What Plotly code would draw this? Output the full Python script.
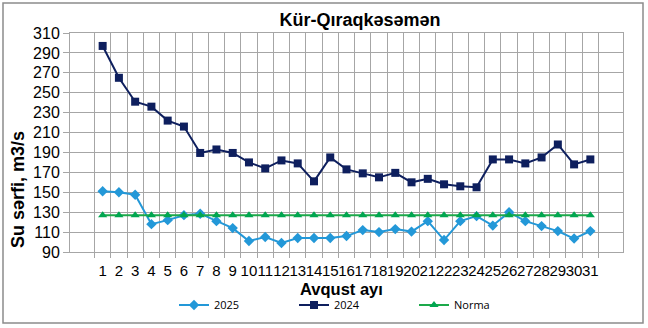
import plotly.graph_objects as go

days = [str(d) for d in range(1, 32)]
y2025 = [151, 150, 147.5, 118, 122, 127, 128.5, 121, 114, 101, 105, 99, 104, 104, 104, 106,
         112, 110, 113, 110.5, 121, 102, 121, 126, 116.5, 130, 121, 116, 111, 103.5, 111]
y2024 = [297, 265, 241, 236, 222, 216, 189.5, 193, 189.5, 180, 174, 182, 179, 161, 185, 173,
         169, 165, 169.5, 160, 163.5, 158, 156, 155, 183, 183, 179, 185, 198, 178, 183]
norma = [127] * 31
y_ticks = list(range(90, 311, 20))

W, H = 648, 328
L, R, T, B = 70, 25, 33, 76
pw, ph = W - L - R, H - T - B

def px_x(x):
    return (x - L) / pw

def px_y(y):
    return (H - B - y) / ph

fig = go.Figure()
fig.add_trace(go.Scatter(x=days, y=y2025, name="2025", mode="lines+markers",
                         line=dict(color="#2398D8", width=2),
                         marker=dict(symbol="diamond", size=8, color="#2398D8")))
fig.add_trace(go.Scatter(x=days, y=y2024, name="2024", mode="lines+markers",
                         line=dict(color="#0E1F5E", width=2),
                         marker=dict(symbol="square", size=8, color="#0E1F5E")))
fig.add_trace(go.Scatter(x=days, y=norma, name="Norma", mode="lines+markers",
                         line=dict(color="#1CA94A", width=2),
                         marker=dict(symbol="triangle-up", size=8, color="#00A650")))

fig.update_layout(
    width=W, height=H,
    margin=dict(l=L, r=R, t=T, b=B, autoexpand=False),
    paper_bgcolor="white", plot_bgcolor="white",
    font=dict(family="Liberation Sans, Arial, sans-serif", color="black"),
    title=dict(text="<b>Kür-Qıraqkəsəmən</b>", x=px_x(360), xanchor="center",
               xref="paper", y=1 - 20 / H, yanchor="middle",
               font=dict(size=18, family="Liberation Sans, Arial, sans-serif")),
    xaxis=dict(type="category", tickson="boundaries", showgrid=True,
               gridcolor="#A6A6A6", gridwidth=1.2, ticks="outside", ticklen=5,
               tickcolor="#A6A6A6", tickfont=dict(size=15), tickangle=0,
               dtick=1, showline=True, automargin=False, ticklabelstandoff=5,
               linecolor="#A6A6A6", mirror=True, zeroline=False),
    yaxis=dict(range=[90, 310], tickvals=y_ticks, showgrid=True,
               gridcolor="#A6A6A6", gridwidth=1.2, ticks="outside", ticklen=6,
               tickcolor="#A6A6A6", tickfont=dict(size=16), showline=True,
               automargin=False,
               linecolor="#A6A6A6", mirror=True, zeroline=False),
    legend=dict(orientation="h", x=px_x(174), y=px_y(305), yanchor="middle",
                xanchor="left", font=dict(size=11, family="Open Sans, sans-serif"),
                entrywidth=75, entrywidthmode="pixels", bgcolor="rgba(0,0,0,0)",
                tracegroupgap=0),
    annotations=[
        dict(text="<b>Avqust ayı</b>", xref="paper", yref="paper",
             x=px_x(341), y=px_y(289), xanchor="center", yanchor="middle",
             showarrow=False, font=dict(size=16.5)),
        dict(text="<b>Su sərfi, m3/s</b>", xref="paper", yref="paper",
             x=px_x(18), y=px_y(190), xanchor="center", yanchor="middle",
             textangle=-90, showarrow=False, font=dict(size=18)),
    ],
    shapes=[dict(type="rect", xref="paper", yref="paper",
                 x0=px_x(3), x1=px_x(643), y0=px_y(323), y1=px_y(3),
                 line=dict(color="#8C8C8C", width=1.5), layer="below")],
)

fig.write_html("out.html")
